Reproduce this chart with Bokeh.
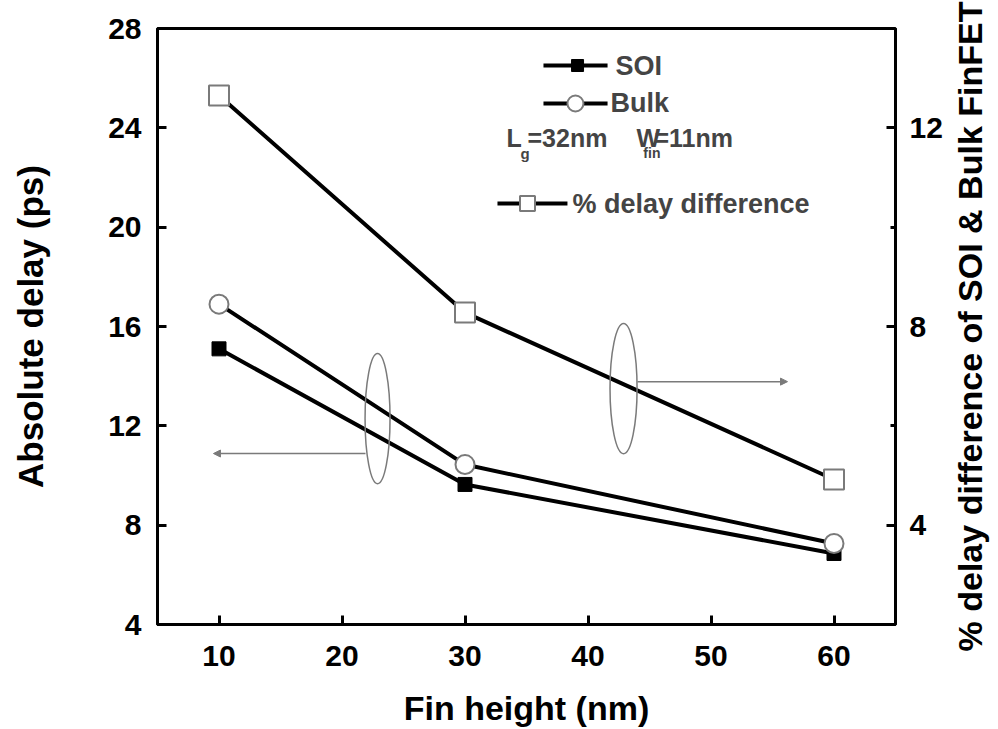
from bokeh.plotting import figure
from bokeh.models import Range1d, LinearAxis, FixedTicker, Label, Arrow, NormalHead
from bokeh.layouts import row
from bokeh.embed import file_html
from bokeh.resources import INLINE

# ---- data ----
fin_height = [10, 30, 60]
soi_delay = [15.1, 9.64, 6.86]
bulk_delay = [16.9, 10.44, 7.26]
pct_diff = [12.65, 8.28, 4.92]

x_ticks = [10, 20, 30, 40, 50, 60]
left_ticks = [4, 8, 12, 16, 20, 24, 28]
right_ticks = [4, 8, 12]
right_minor_ticks = [6, 10]

x_title = "Fin height (nm)"
left_title = "Absolute delay (ps)"
right_title = "% delay difference of SOI & Bulk FinFET"

FONT = "Liberation Sans"
GRAY = "#7a7a7a"
H = 729

p = figure(width=947, height=H, x_range=Range1d(5, 65), y_range=Range1d(4, 28),
           output_backend="svg", toolbar_location=None,
           min_border_left=157, min_border_right=52, min_border_top=28, min_border_bottom=105)
p.extra_y_ranges = {"pct": Range1d(2, 14)}
p.xgrid.visible = False
p.ygrid.visible = False
p.outline_line_color = "black"
p.outline_line_width = 3
p.outline_line_alpha = 1
p.background_fill_color = "white"
p.border_fill_color = "white"

def style_axis(ax, tick_size="30px", label_size="34px"):
    ax.axis_line_color = "black"
    ax.axis_line_width = 3
    ax.major_tick_line_color = "black"
    ax.major_tick_line_width = 3
    ax.major_tick_in = 9
    ax.major_tick_out = 0
    ax.minor_tick_line_color = "black"
    ax.minor_tick_line_width = 3
    ax.minor_tick_in = 5
    ax.minor_tick_out = 0
    ax.major_label_text_font = FONT
    ax.major_label_text_font_style = "bold"
    ax.major_label_text_font_size = tick_size
    ax.major_label_text_color = "black"
    ax.axis_label_text_font = FONT
    ax.axis_label_text_font_style = "bold"
    ax.axis_label_text_font_size = label_size
    ax.axis_label_text_color = "black"

xa = p.xaxis[0]
style_axis(xa)
xa.ticker = FixedTicker(ticks=x_ticks, minor_ticks=[])
xa.axis_label = x_title
xa.major_label_standoff = 21
xa.axis_label_standoff = 20

ya = p.yaxis[0]
style_axis(ya, label_size="35px")
ya.ticker = FixedTicker(ticks=left_ticks, minor_ticks=[])
ya.axis_label = left_title
ya.major_label_standoff = 16
ya.axis_label_standoff = 55

ra = LinearAxis(y_range_name="pct")
style_axis(ra)
ra.ticker = FixedTicker(ticks=right_ticks, minor_ticks=right_minor_ticks)
ra.major_label_standoff = 14
p.add_layout(ra, "right")

# ---- series ----
p.line(fin_height, soi_delay, line_width=4, line_color="black")
p.scatter(fin_height, soi_delay, marker="square", size=14, fill_color="black", line_color="black")

p.line(fin_height, bulk_delay, line_width=4, line_color="black")
p.scatter(fin_height, bulk_delay, marker="circle", size=19, fill_color="white",
          line_color=GRAY, line_width=2)

p.line(fin_height, pct_diff, line_width=4, line_color="black", y_range_name="pct")
p.scatter(fin_height, pct_diff, marker="square", size=20, fill_color="white",
          line_color=GRAY, line_width=2, y_range_name="pct")

# ---- ellipses and arrows ----
p.ellipse(x=[22.89, 42.89], y=[12.29, 13.5], width=[2.03, 2.2], height=[5.24, 5.24],
          fill_color=None, line_color=GRAY, line_width=1.5)
p.add_layout(Arrow(end=NormalHead(size=7, fill_color=GRAY, line_color=GRAY),
                   x_start=21.91, y_start=10.885, x_end=9.55, y_end=10.885,
                   line_color=GRAY, line_width=1.5))
p.add_layout(Arrow(end=NormalHead(size=7, fill_color=GRAY, line_color=GRAY),
                   x_start=44.02, y_start=13.78, x_end=56.22, y_end=13.78,
                   line_color=GRAY, line_width=1.5))

# ---- legend (hand-drawn) ----
p.line([36.38, 41.59], [26.51, 26.51], line_width=4, line_color="black")
p.scatter([39.15], [26.51], marker="square", size=12, fill_color="black", line_color="black")
p.add_layout(Label(x=42.24, y=26.51, text="SOI", text_font=FONT, text_font_style="bold",
                   text_font_size="27px", text_baseline="middle", text_align="left"))

p.line([36.38, 41.59], [24.98, 24.98], line_width=4, line_color="black")
p.scatter([38.98], [24.98], marker="circle", size=16, fill_color="white", line_color=GRAY, line_width=2)
p.add_layout(Label(x=41.83, y=24.98, text="Bulk", text_font=FONT, text_font_style="bold",
                   text_font_size="27px", text_baseline="middle", text_align="left"))

for tx, ty, t, fs in [(33.37, 23.61, "L", "25px"), (34.51, 22.97, "g", "15px"),
                      (35.08, 23.61, "=32nm", "25px"), (43.94, 23.61, "W", "25px"),
                      (44.5, 22.97, "fin", "14px"), (45.4, 23.61, "=11nm", "25px")]:
    p.add_layout(Label(x=tx, y=ty, text=t, text_font=FONT, text_font_style="bold",
                       text_font_size=fs, text_baseline="middle", text_align="left"))

p.line([32.64, 38.33], [20.95, 20.95], line_width=4, line_color="black")
p.scatter([35.08], [20.95], marker="square", size=15, fill_color="white", line_color=GRAY, line_width=2)
p.add_layout(Label(x=38.74, y=20.95, text="% delay difference", text_font=FONT,
                   text_font_style="bold", text_font_size="27px",
                   text_baseline="middle", text_align="left"))

# ---- right-hand title strip: a tick-less axis whose label reads bottom to top ----
p2 = figure(width=51, height=H, x_range=Range1d(0, 1), y_range=Range1d(2, 14),
            output_backend="svg", toolbar_location=None,
            x_axis_location=None, y_axis_location="left", min_border=0)
p2.xgrid.visible = False
p2.ygrid.visible = False
p2.outline_line_color = None
p2.background_fill_color = "white"
p2.border_fill_color = "white"
ta = p2.yaxis[0]
ta.ticker = FixedTicker(ticks=[], minor_ticks=[])
ta.axis_line_color = None
ta.major_tick_line_color = None
ta.minor_tick_line_color = None
ta.major_label_text_font_size = "0px"
ta.major_label_standoff = 0
ta.axis_label = right_title
ta.axis_label_standoff = 0
ta.axis_label_text_font = FONT
ta.axis_label_text_font_style = "bold"
ta.axis_label_text_font_size = "34px"
ta.axis_label_text_color = "black"

layout = row(p, p2, spacing=0)
open("out.html", "w").write(file_html(layout, INLINE))
